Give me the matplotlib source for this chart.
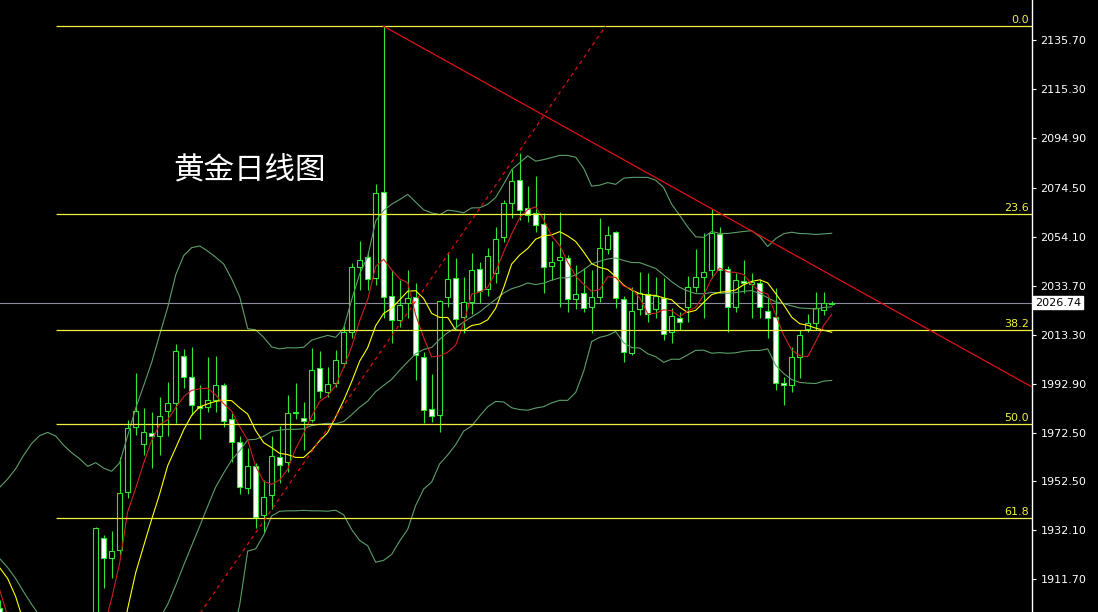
import matplotlib
matplotlib.use('Agg')
import matplotlib.pyplot as plt
import matplotlib.transforms as mtransforms
import numpy as np
import pandas as pd

# closes before the first drawn bar, only used to warm up the averages / bands
early_close = [1940, 1940, 1939, 1926, 1916, 1919, 1919, 1922, 1913, 1908,
               1910, 1924, 1934, 1931, 1930, 1920, 1925, 1916, 1901]

# daily candles, bar 0 is the first big bull candle on the left
first_bar = -12
opens = [1900, 1875, 1865, 1848, 1828, 1822, 1822, 1820, 1846, 1861, 1861, 1874,
         1868, 1929, 1920.6, 1924, 1948, 1974.9, 1967.9, 1972.7, 1971.5, 1981.5,
         1984.9, 2004.5, 1995.9, 1983.8, 1983.3, 1986.3, 1992.5, 1978.4, 1969.0, 1949.6,
         1958.9, 1938.5, 1946.6, 1962.7, 1960.3, 1981.4, 1978.7, 1977.9, 1999.4, 1989.4,
         1993.2, 2001.5, 2014.4, 2041.4, 2045.5, 2036.8, 2072.8, 2029.6, 2019.5, 2026.4,
         2029.0, 2004.0, 1982.4, 1980.1, 2029.2, 2036.8, 2020.6, 2027.1, 2040.6, 2032.3,
         2039.2, 2053.8, 2068.2, 2077.7, 2066.0, 2064.1, 2059.2, 2042.0, 2044.2, 2045.1,
         2028.2, 2030.6, 2024.8, 2029.0, 2049.0, 2055.9, 2028.1, 2005.9, 2023.9, 2030.1,
         2023.9, 2028.8, 2014.4, 2020.5, 2024.8, 2033.3, 2037.2, 2040.3, 2055.1, 2040.6,
         2025.0, 2035.8, 2034.4, 2034.7, 2023.4, 2020.6, 1993.2, 1992.5, 2004.2, 2015.8,
         2018.1, 2023.7, 2026.2]
highs = [1903, 1880, 1880, 1850, 1833, 1829, 1826, 1835, 1865, 1867, 1876, 1885,
         1933.5, 1930, 1932, 1962.7, 1978, 1997.4, 1982.8, 1981.4, 1987.7, 1993.9,
         2009.5, 2007.5, 2008.4, 1992.5, 2004.2, 2004.5, 1993.5, 1980.9, 1971.3, 1966.2,
         1960, 1953.1, 1971.1, 1975.5, 1988.4, 1993.5, 1985.4, 2007.7, 2006.6, 2000.1,
         2007, 2017, 2043.1, 2052.4, 2048, 2075.9, 2141.5, 2040.3, 2036.1, 2040.3,
         2034.7, 2006.3, 1997, 2027.8, 2047.9, 2045.1, 2037.5, 2047.2, 2043.4, 2049.3,
         2058.3, 2069.3, 2082.1, 2088.7, 2075.2, 2079.4, 2064, 2052.4, 2064.5, 2046.5,
         2042.4, 2041.0, 2040.3, 2061.7, 2058.5, 2056.5, 2029.5, 2033.3, 2039.6, 2038.9,
         2037.5, 2036.8, 2024.4, 2023, 2037.8, 2048.9, 2055.5, 2065.5, 2058, 2042,
         2038.9, 2044.4, 2038.9, 2036.4, 2029, 2032.7, 1996, 2008.2, 2015.4, 2022,
         2031.0, 2031.0, 2027.5]
lows = [1873, 1858, 1846, 1827, 1816, 1815, 1813, 1810.9, 1843, 1852, 1859, 1867,
        1865, 1908, 1912.5, 1922, 1945.5, 1971.7, 1963.4, 1957.9, 1963.4, 1971.1,
        1976.6, 1991.1, 1980.1, 1969.9, 1981.4, 1981.4, 1975.2, 1960.7, 1947.3, 1947.3,
        1933, 1931.6, 1941.0, 1951.7, 1956.5, 1978.4, 1965.5, 1977.3, 1987, 1987.5,
        1991.8, 2000, 2011.9, 2032, 2032, 2034, 2020.2, 2009.8, 2016.7, 2020.2,
        1994.6, 1976.6, 1977.3, 1973.1, 2025.0, 2016.0, 2014.0, 2022, 2026.4, 2029.5,
        2035, 2052, 2061.7, 2061.0, 2060, 2056.2, 2030.6, 2036.1, 2025.0, 2023.0,
        2024, 2023.0, 2014.0, 2027, 2047, 2024.3, 2002.2, 2005.0, 2021.6, 2018.8,
        2020.2, 2011.2, 2009.8, 2015.5, 2018.8, 2031.3, 2020.2, 2036.8, 2030.6, 2014.6,
        2023.0, 2030.6, 2020.2, 2020.2, 2011.9, 1990.4, 1984.2, 1989.7, 1995.3, 2014.6,
        2015.5, 2021.6, 2025.8]
closes = [1875, 1865, 1849, 1828, 1822, 1822, 1820, 1833, 1861, 1861, 1874, 1868,
          1933.0, 1920.6, 1923.6, 1947.5, 1974.5, 1981.7, 1972.9, 1971.1, 1979.8, 1984.9,
          2006.6, 1995.9, 1984.2, 1982.8, 1986.3, 1992.5, 1977.6, 1969.0, 1950.3, 1958.9,
          1937.8, 1946.1, 1963.2, 1959.3, 1981.0, 1980.8, 1977.7, 1998.7, 1990.1, 1992.8,
          2002.7, 2014.6, 2041.4, 2044.4, 2036.4, 2072.1, 2029.2, 2019.5, 2025.6, 2028.5,
          2005.0, 1982.1, 1979.6, 2027.5, 2036.4, 2019.8, 2027.1, 2040.3, 2031.7, 2046.1,
          2053.1, 2067.9, 2077.4, 2065.0, 2063.1, 2058.9, 2041.4, 2043.5, 2045.5, 2028.2,
          2030.1, 2024.3, 2028.9, 2049.3, 2054.8, 2028.5, 2006.3, 2023.2, 2030.6, 2021.8,
          2029.4, 2013.7, 2021.2, 2018.6, 2033.0, 2037.2, 2039.3, 2055.5, 2040.3, 2025.0,
          2036.1, 2035.0, 2035.2, 2025.0, 2020.2, 1993.2, 1992.4, 2004.2, 2013.3, 2018.1,
          2024.4, 2026.4, 2026.74]

# fibonacci retracement between the october low and the december spike
fib_low_bar, fib_low = -5, 1810.9
fib_high_bar, fib_high = 36, 2141.5
fib_ratios = [0.0, 0.236, 0.382, 0.5, 0.618]
fib_labels = ['0.0', '23.6', '38.2', '50.0', '61.8']

# hand drawn trend lines (start bar, start price, slope per bar)
down_line = (36, 2141.5, -1.849)
up_line = (-5, 1810.9, 4.81)

price_ticks = [2135.70, 2115.30, 2094.90, 2074.50, 2054.10, 2033.70,
               2013.30, 1992.90, 1972.50, 1952.50, 1932.10, 1911.70]
last_price = 2026.74
title = '黄金日线图'

green = '#33e633'
bb_col = '#5c9e68'

x = np.arange(first_bar, first_bar + len(closes))
o = np.array(opens)
h = np.array(highs)
l = np.array(lows)
c = np.array(closes)

all_close = pd.Series(early_close + closes)
all_x = np.arange(first_bar - len(early_close), first_bar + len(closes))
ma5 = all_close.rolling(5).mean()
ma10 = all_close.rolling(10).mean()
mid = all_close.rolling(20).mean()
sd = all_close.rolling(20).std(ddof=0)

xmin, xmax = -11.96, 117.04
ymin, ymax = 1898.2, 2152.4

fig = plt.figure(figsize=(10.98, 6.12), dpi=100, facecolor='black')
ax = fig.add_axes([0, 0, 1032 / 1098, 1])
ax.set_facecolor('black')
ax.set_xlim(xmin, xmax)
ax.set_ylim(ymin, ymax)

# current price line
ax.axhline(last_price, color='#8c8ca0', lw=0.8, zorder=1)

# candles
ax.vlines(x, l, h, color=green, lw=0.8, zorder=2)
up = c >= o
body = np.maximum(np.abs(c - o), 0.5)
bottom = np.minimum(o, c)
ax.bar(x[up], body[up], bottom=bottom[up], width=0.6, facecolor='black',
       edgecolor=green, lw=0.8, zorder=2.5)
ax.bar(x[~up], body[~up], bottom=bottom[~up], width=0.6, facecolor='white',
       edgecolor=green, lw=0.8, zorder=2.5)

# bollinger bands + moving averages
ax.plot(all_x, mid + 2 * sd, color=bb_col, lw=0.8, zorder=3)
ax.plot(all_x, mid, color=bb_col, lw=0.8, zorder=3)
ax.plot(all_x, mid - 2 * sd, color=bb_col, lw=0.8, zorder=3)
ax.plot(all_x, ma10, color='#ffff00', lw=0.8, zorder=3.2)
ax.plot(all_x, ma5, color='#cc2020', lw=0.8, zorder=3.3)

# fibonacci levels
for r, lab in zip(fib_ratios, fib_labels):
    lvl = fib_high - r * (fib_high - fib_low)
    ax.hlines(lvl, fib_low_bar, xmax, color='#f0f040', lw=0.9, zorder=3.5)
    ax.annotate(lab, xy=(0.997, lvl), xycoords=('axes fraction', 'data'),
                xytext=(0, 1), textcoords='offset points', ha='right', va='bottom',
                color='#f0f040', fontsize=8, zorder=5)

# trend lines
b0, p0, k = down_line
xs = np.array([b0, xmax + 1])
ax.plot(xs, p0 + k * (xs - b0), color='#dd1111', lw=0.9, zorder=4)
b0, p0, k = up_line
x_end = b0 + (fib_high - p0) / k
xs = np.array([b0, x_end])
ax.plot(xs, p0 + k * (xs - b0), color='#dd1111', lw=0.9, ls=(0, (3, 3)), zorder=4)

# axes styling
for side in ['left', 'top', 'bottom']:
    ax.spines[side].set_visible(False)
ax.spines['right'].set_color('white')
ax.spines['right'].set_linewidth(1)
ax.set_xticks([])
ax.yaxis.tick_right()
ax.set_yticks(price_ticks)
ax.set_yticklabels(['%.2f' % p for p in price_ticks])
ax.tick_params(axis='y', colors='white', labelcolor='white', labelsize=8,
               length=3, width=0.8, pad=3)

trans = mtransforms.blended_transform_factory(ax.transAxes, ax.transData)
ax.text(1.003, last_price, '%.2f' % last_price, transform=trans, ha='left', va='center',
        color='black', fontsize=8, clip_on=False,
        bbox=dict(boxstyle='square,pad=0.15', facecolor='white', edgecolor='white'))

fig.text(173 / 1098, 1 - 170 / 612, title, color='white', fontsize=22,
         family=['Noto Sans CJK SC', 'DejaVu Sans'], ha='left', va='center')

fig.savefig('out.png', dpi=100, facecolor='black')
